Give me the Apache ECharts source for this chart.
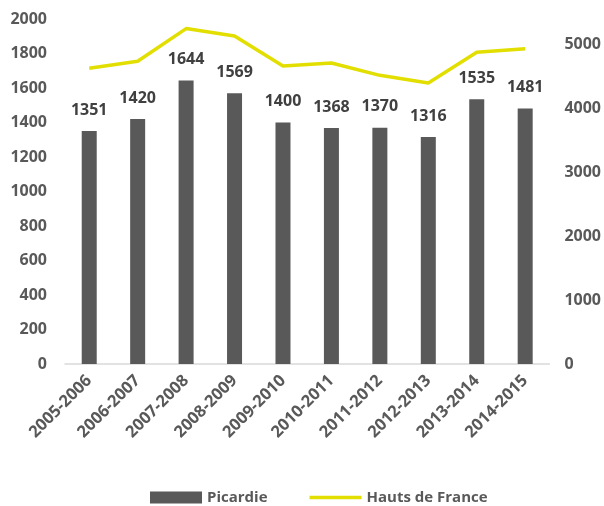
<!DOCTYPE html>
<html>
<head>
<meta charset="utf-8">
<script src="https://cdn.jsdelivr.net/npm/echarts@6/dist/echarts.min.js"></script>
<style>
  html, body { margin: 0; padding: 0; background: #fff; }
  #chart { width: 604px; height: 506px; }
</style>
</head>
<body>
<div id="chart"></div>
<script>
const seasons = ['2005-2006', '2006-2007', '2007-2008', '2008-2009', '2009-2010',
  '2010-2011', '2011-2012', '2012-2013', '2013-2014', '2014-2015']
const picardie = [1351, 1420, 1644, 1569, 1400, 1368, 1370, 1316, 1535, 1481]
const hautsDeFrance = [4620, 4730, 5240, 5125, 4656, 4703, 4510, 4390, 4870, 4927]

const font = '"Open Sans", "Noto Sans", sans-serif'
const grey = '#595959'
const yellow = '#e2df00'

const chart = echarts.init(document.getElementById('chart'))

chart.setOption({
  animation: false,
  backgroundColor: '#fff',
  grid: { left: 65, right: 54, top: 19, bottom: 142 },
  legend: {
    bottom: -4,
    left: 145,
    itemGap: 42,
    itemWidth: 52,
    itemHeight: 12,
    textStyle: { color: grey, fontFamily: font, fontWeight: 'bold', fontSize: 15 },
    data: [
      { name: 'Picardie', icon: 'rect' },
      { name: 'Hauts de France', icon: 'path://M0,0 L52,0 L52,3.5 L0,3.5 Z', itemStyle: { color: yellow } }
    ]
  },
  xAxis: {
    type: 'category',
    data: seasons,
    axisLine: { lineStyle: { color: '#d9d9d9', width: 1.5 } },
    axisTick: { show: false },
    axisLabel: {
      rotate: 45,
      interval: 0,
      color: grey,
      fontFamily: font,
      fontWeight: 'bold',
      fontSize: 16.5,
      margin: 14
    }
  },
  yAxis: [
    {
      type: 'value',
      min: 0,
      max: 2000,
      interval: 200,
      axisLine: { show: false },
      axisTick: { show: false },
      splitLine: { show: false },
      axisLabel: {
        color: grey, fontFamily: font, fontWeight: 'bold', fontSize: 16, margin: 18,
        formatter: v => String(v)
      }
    },
    {
      type: 'value',
      min: 0,
      max: 5390,
      interval: 1000,
      axisLine: { show: false },
      axisTick: { show: false },
      splitLine: { show: false },
      axisLabel: {
        color: grey, fontFamily: font, fontWeight: 'bold', fontSize: 16, margin: 15,
        showMaxLabel: false,
        formatter: v => String(v)
      }
    }
  ],
  series: [
    {
      name: 'Picardie',
      type: 'bar',
      data: picardie,
      barWidth: 15,
      itemStyle: { color: grey },
      label: {
        show: true,
        position: 'top',
        distance: 13,
        color: '#404040',
        fontFamily: font,
        fontWeight: 'bold',
        fontSize: 16
      }
    },
    {
      name: 'Hauts de France',
      type: 'line',
      yAxisIndex: 1,
      data: hautsDeFrance,
      symbol: 'none',
      lineStyle: { color: yellow, width: 3.5 },
      itemStyle: { color: yellow }
    }
  ]
})
</script>
</body>
</html>
